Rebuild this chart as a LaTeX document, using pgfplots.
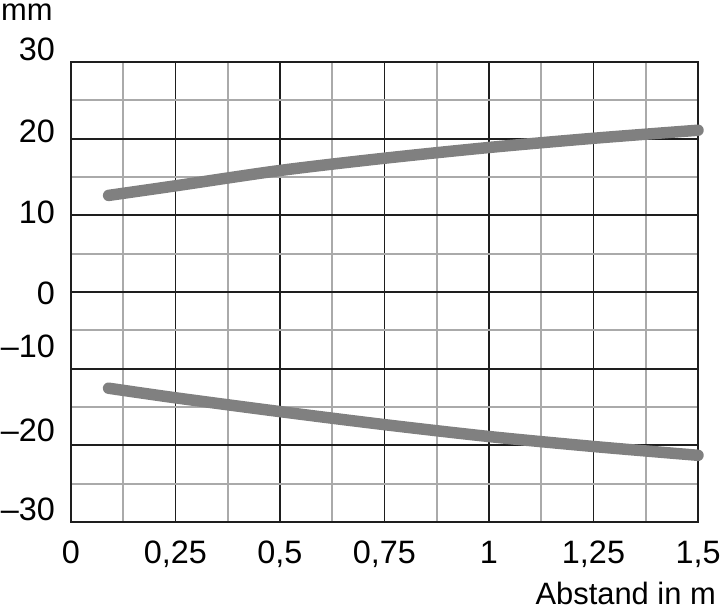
\documentclass[border=0pt]{standalone}
\usepackage{pgfplots}
\pgfplotsset{compat=1.18}
\usepackage{fontspec}
\setmainfont{Liberation Sans}
\definecolor{curvegray}{RGB}{128,128,128}
\definecolor{gridgray}{RGB}{170,170,170}
\definecolor{gridblack}{RGB}{30,30,30}
\newcommand{\lblfont}{\fontsize{31pt}{36pt}\selectfont}
\newcommand{\tickfont}{\fontsize{32.5pt}{38pt}\selectfont}
\begin{document}
\begin{tikzpicture}
\begin{axis}[
  at={(0,0)}, anchor=south west,
  scale only axis, width=627bp, height=460bp,
  xmin=0, xmax=1.5, ymin=-30, ymax=30,
  clip=false,
  axis line style={gridblack, line width=1.8bp},
  xtick={0,0.25,0.5,0.75,1,1.25,1.5},
  xticklabels={0,{0,25},{0,5},{0,75},1,{1,25},{1,5}},
  minor xtick={0.125,0.375,0.625,0.875,1.125,1.375},
  xmajorgrids, xminorgrids,
  ytick={21.0,10.43,-0.2,-7.04,-18.0,-28.3},
  yticklabels={20,10,0,–10,–20,–30},
  minor ytick={-25,-15,-5,5,15,25},
  yminorgrids,
  extra y ticks={-20,-10,0,10,20},
  extra y tick labels={},
  extra y tick style={ymajorgrids=true, major tick length=0pt},
  major grid style={gridblack, line width=1.8bp},
  minor grid style={gridgray, line width=1.8bp},
  major tick length=0pt, minor tick length=0pt,
  tick label style={font=\tickfont},
  yticklabel style={inner sep=0pt, xshift=-16bp},
  xticklabel style={inner sep=0pt, yshift=-19bp},
]
\addplot[curvegray, line width=11.5bp, line cap=round, smooth, tension=0.5] coordinates {
  (0.09,12.6) (0.25,13.85) (0.5,15.85) (0.75,17.45) (1.0,18.85) (1.25,20.05) (1.5,21.1)
};
\addplot[curvegray, line width=11.5bp, line cap=round, smooth, tension=0.5] coordinates {
  (0.09,-12.55) (0.25,-13.8) (0.5,-15.6) (0.75,-17.3) (1.0,-18.85) (1.25,-20.15) (1.5,-21.3)
};
\node[anchor=east, inner sep=0pt, font=\tickfont] at ([shift={(-16bp,12.5bp)}]rel axis cs:0,1) {30};
\node[anchor=base west, inner sep=0pt, font=\lblfont] at ([shift={(-70bp,42bp)}]rel axis cs:0,1) {mm};
\node[anchor=base east, inner sep=0pt, font=\lblfont] at ([shift={(18bp,-82bp)}]rel axis cs:1,0) {Abstand in m};
\end{axis}
\pgfresetboundingbox
\path (-71bp,-86bp) rectangle (649bp,522bp);
\end{tikzpicture}
\end{document}
